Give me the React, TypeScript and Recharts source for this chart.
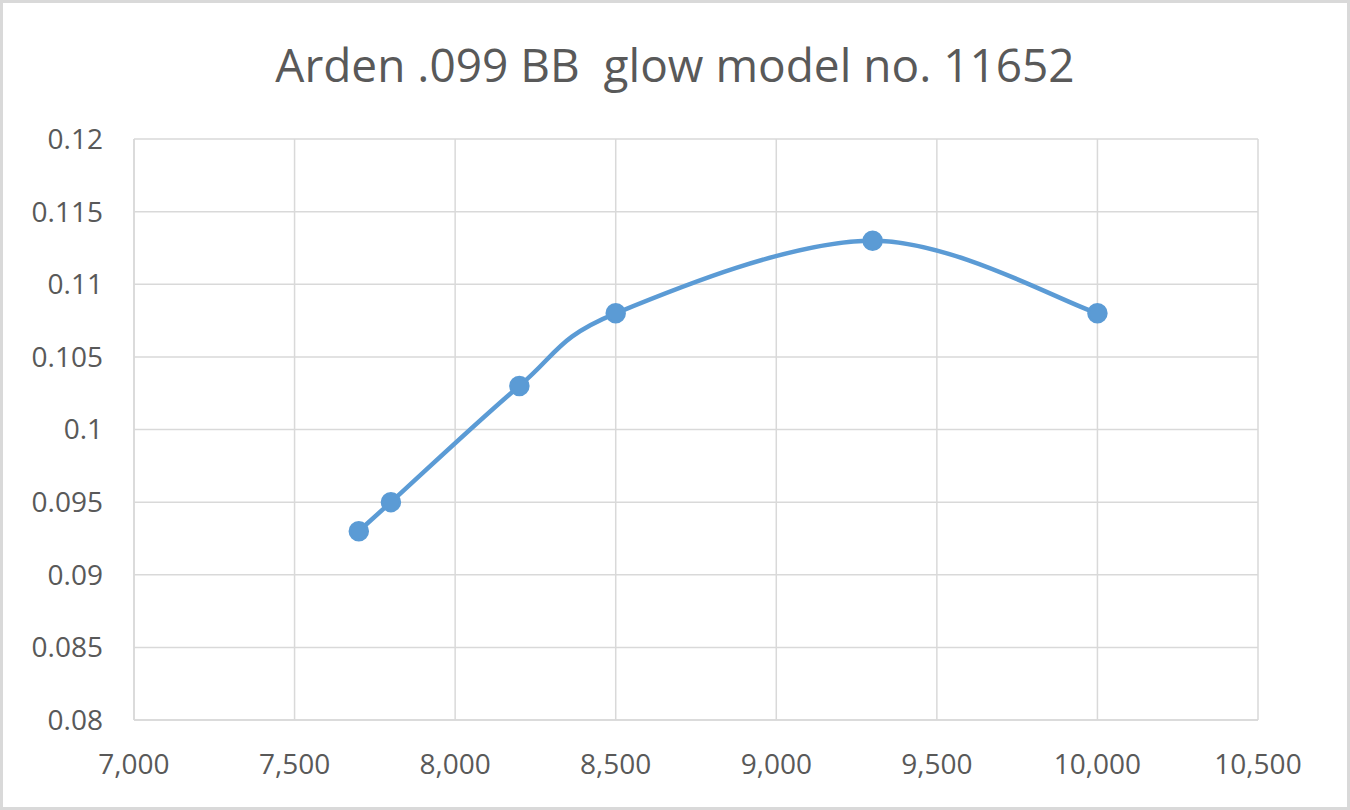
import React from 'react';
import { LineChart, Line, XAxis, YAxis, CartesianGrid } from 'recharts';

const xValues = [7700, 7800, 8200, 8500, 9300, 10000];
const yValues = [0.093, 0.095, 0.103, 0.108, 0.113, 0.108];
const xTicks = [7000, 7500, 8000, 8500, 9000, 9500, 10000, 10500];
const yTicks = [0.08, 0.085, 0.09, 0.095, 0.1, 0.105, 0.11, 0.115, 0.12];
const title = 'Arden .099 BB  glow model no. 11652';

const data = xValues.map((x, i) => ({ x, y: yValues[i] }));

const FONT = '"Open Sans", "Noto Sans", sans-serif';
const TEXT = '#595959';
const GRID = '#d9d9d9';
const BLUE = '#5b9bd5';

// Excel-like smoothed line (Catmull-Rom with 1/6 tension as cubic Bezier)
const excelCurve = (context: any) => {
  let pts: number[][] = [];
  return {
    areaStart() {},
    areaEnd() {},
    lineStart() {
      pts = [];
    },
    point(x: number, y: number) {
      pts.push([+x, +y]);
    },
    lineEnd() {
      if (!pts.length) return;
      context.moveTo(pts[0][0], pts[0][1]);
      for (let i = 0; i < pts.length - 1; i++) {
        const p0 = pts[i - 1] || pts[i];
        const p1 = pts[i];
        const p2 = pts[i + 1];
        const p3 = pts[i + 2] || pts[i + 1];
        context.bezierCurveTo(
          p1[0] + (p2[0] - p0[0]) / 6,
          p1[1] + (p2[1] - p0[1]) / 6,
          p2[0] - (p3[0] - p1[0]) / 6,
          p2[1] - (p3[1] - p1[1]) / 6,
          p2[0],
          p2[1]
        );
      }
    },
  };
};

export default function App() {
  return (
    <div
      style={{
        position: 'fixed',
        left: 0,
        top: 0,
        width: 1350,
        height: 810,
        border: `3px solid ${GRID}`,
        boxSizing: 'border-box',
        background: '#fff',
        fontFamily: FONT,
      }}
    >
      <div
        style={{
          position: 'absolute',
          left: 0,
          width: 1344,
          top: 31,
          textAlign: 'center',
          fontSize: 46,
          color: TEXT,
          lineHeight: '60px',
          whiteSpace: 'pre',
        }}
      >
        {title}
      </div>
      <LineChart
        width={1344}
        height={804}
        data={data}
        margin={{ top: 136, right: 89, bottom: 37, left: 0 }}
      >
        <CartesianGrid stroke={GRID} strokeWidth={1.5} />
        <XAxis
          dataKey="x"
          type="number"
          domain={[7000, 10500]}
          ticks={xTicks}
          tickFormatter={(v: number) => v.toLocaleString('en-US')}
          axisLine={{ stroke: GRID, strokeWidth: 1.5 }}
          tickLine={false}
          tickSize={0}
          tickMargin={34}
          height={50}
          tick={{ fill: TEXT, fontSize: 28, fontFamily: FONT }}
          interval={0}
        />
        <YAxis
          dataKey="y"
          type="number"
          domain={[0.08, 0.12]}
          ticks={yTicks}
          tickFormatter={(v: number) => String(v)}
          axisLine={{ stroke: GRID, strokeWidth: 1.5 }}
          tickLine={false}
          tickSize={0}
          tickMargin={31}
          width={131}
          tick={{ fill: TEXT, fontSize: 28, fontFamily: FONT }}
          interval={0}
        />
        <Line
          dataKey="y"
          type={excelCurve as any}
          stroke={BLUE}
          strokeWidth={4.5}
          dot={{ r: 9, fill: BLUE, stroke: BLUE, strokeWidth: 2.5 }}
          isAnimationActive={false}
        />
      </LineChart>
    </div>
  );
}
